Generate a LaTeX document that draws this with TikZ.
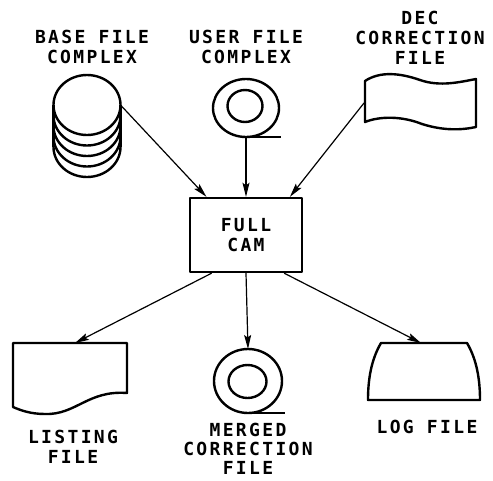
\documentclass[tikz,border=0pt]{standalone}
\usepackage{fontspec}
\newfontfamily\lettering[LetterSpace=13]{DejaVu Sans Mono}
\usetikzlibrary{arrows.meta}

\begin{document}
\begin{tikzpicture}[x=1pt, y=-1pt,
    lettering/.style={font=\lettering\bfseries\fontsize{18}{20}\selectfont, align=center, inner sep=0pt},
    shapeline/.style={line width=2.4pt, line join=round},
    process/.style={draw, shapeline, minimum width=112pt, minimum height=74pt},
    flow/.style={-{Stealth[length=14pt, width=7pt, inset=2.5pt]}, line width=1.2pt}]
    \useasboundingbox (0, 0) rectangle (493, 480);

    % inputs
    \node[lettering] (basetxt) at(92, 47) {BASE FILE\\COMPLEX};
    \node[lettering] (usertxt) at(246, 47) {USER FILE\\COMPLEX};
    \node[lettering] (dectxt) at(420, 38) {DEC\\CORRECTION\\FILE};

    % disk stack
    \draw[shapeline] (87, 105) ellipse[x radius=33.5, y radius=30];
    \draw[shapeline] (53.5, 105) -- (53.5, 147);
    \draw[shapeline] (120.5, 105) -- (120.5, 147);
    \draw[shapeline] (53.5, 115.5) arc[start angle=180, end angle=0, x radius=33.5, y radius=30];
    \draw[shapeline] (53.5, 126) arc[start angle=180, end angle=0, x radius=33.5, y radius=30];
    \draw[shapeline] (53.5, 136.5) arc[start angle=180, end angle=0, x radius=33.5, y radius=30];
    \draw[shapeline] (53.5, 147) arc[start angle=180, end angle=0, x radius=33.5, y radius=30];
    \coordinate (stackout) at(120.5, 105);

    % user tape reel
    \draw[shapeline] (246, 108) ellipse[x radius=33, y radius=29];
    \draw[shapeline] (245, 106) ellipse[x radius=17.5, y radius=16];
    \draw[shapeline] (246, 137) -- (281, 137);
    \coordinate (userout) at(246, 137);

    % dec punched tape
    \draw[shapeline] (365, 81) .. controls (380, 71) and (400, 73) .. (420, 80)
        .. controls (440, 87) and (460, 82) .. (476, 79) -- (476, 127)
        .. controls (462, 130) and (444, 131) .. (422, 124)
        .. controls (402, 116) and (380, 116) .. (365, 122) -- cycle;
    \coordinate (decout) at(364, 103);

    % process
    \node[process, lettering] (cam) at(246, 235) {FULL\\CAM};

    % outputs
    \draw[shapeline] (13, 343) -- (127, 343) -- (127, 393)
        .. controls (88, 390) and (76, 415) .. (45, 414)
        .. controls (30, 414) and (20, 410) .. (13, 407) -- cycle;
    \coordinate (listin) at(75, 343);

    \draw[shapeline] (248, 381) ellipse[x radius=34, y radius=32];
    \draw[shapeline] (247.5, 381.5) ellipse[x radius=19, y radius=16.5];
    \draw[shapeline] (248, 413) -- (285, 413);
    \coordinate (mergein) at(248, 349);

    \draw[shapeline] (381, 343) -- (467, 343)
        .. controls (477, 360) and (480, 380) .. (480, 400) -- (368, 400)
        .. controls (368, 380) and (371, 360) .. (381, 343) -- cycle;
    \coordinate (login) at(421, 343);

    \node[lettering] (listtxt) at(73, 447) {LISTING\\FILE};
    \node[lettering, font=\lettering\bfseries\fontsize{18}{19}\selectfont] (mergetxt) at(248, 449) {MERGED\\CORRECTION\\FILE};
    \node[lettering] (logtxt) at(427, 427) {LOG FILE};

    % connectors
    \draw[flow] (stackout) -- (cam.136);
    \draw[flow] (userout) -- (cam.north);
    \draw[flow] (decout) -- (cam.41);
    \draw[flow] (cam.228) -- (listin);
    \draw[flow] (cam.south) -- (mergein);
    \draw[flow] (cam.315) -- (login);
\end{tikzpicture}
\end{document}
